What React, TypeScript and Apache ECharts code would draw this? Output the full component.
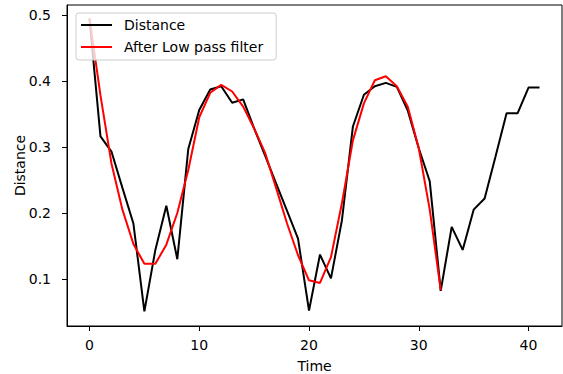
import React, { useEffect, useRef } from "react";
import * as echarts from "echarts";

const distance = [0.494, 0.316, 0.293, 0.238, 0.184, 0.051, 0.144, 0.211, 0.130, 0.297, 0.356, 0.387, 0.392, 0.367, 0.372, 0.328, 0.287, 0.245, 0.203, 0.161, 0.052, 0.137, 0.101, 0.189, 0.331, 0.379, 0.392, 0.397, 0.391, 0.355, 0.298, 0.248, 0.082, 0.179, 0.144, 0.205, 0.222, 0.286, 0.351, 0.351, 0.390, 0.390];
const filtered = [0.495, 0.378, 0.275, 0.205, 0.153, 0.123, 0.123, 0.152, 0.200, 0.265, 0.345, 0.382, 0.394, 0.384, 0.361, 0.328, 0.291, 0.238, 0.184, 0.136, 0.098, 0.094, 0.133, 0.215, 0.310, 0.366, 0.401, 0.407, 0.392, 0.361, 0.298, 0.205, 0.083];
const xTicks = [0, 10, 20, 30, 40];
const yTicks = [0.1, 0.2, 0.3, 0.4, 0.5];
const seriesNames = ["Distance", "After Low pass filter"];

const FONT = "DejaVu Sans";

export default function App() {
  const ref = useRef<HTMLDivElement>(null);
  useEffect(() => {
    if (!ref.current) return;
    const chart = echarts.init(ref.current, undefined, { renderer: "svg" });
    chart.setOption({
      animation: false,
      textStyle: { fontFamily: FONT },
      grid: {
        left: 67,
        right: 1,
        top: 5,
        bottom: 48,
        outerBoundsMode: "none",
        containLabel: false,
        show: true,
        borderColor: "#000",
        borderWidth: 1,
        backgroundColor: "transparent",
      },
      legend: {
        orient: "vertical",
        left: 76,
        top: 13,
        icon: "rect",
        itemWidth: 31,
        itemHeight: 2,
        itemGap: 6,
        padding: [4, 13, 5, 5],
        backgroundColor: "rgba(255,255,255,0.8)",
        borderColor: "#cccccc",
        borderWidth: 1,
        borderRadius: 3,
        textStyle: { fontFamily: FONT, fontSize: 14, color: "#000", lineHeight: 16, padding: [0, 0, 0, 7] },
        data: seriesNames,
      },
      xAxis: {
        type: "value",
        min: -2.05,
        max: 43.05,
        name: "Time",
        nameLocation: "middle",
        nameGap: 33,
        nameMoveOverlap: false,
        nameTextStyle: { fontFamily: FONT, fontSize: 14, color: "#000" },
        axisLine: { show: true, onZero: false, lineStyle: { color: "#000", width: 1 } },
        axisTick: { show: true, inside: false, length: 5, customValues: xTicks, lineStyle: { color: "#000", width: 1 } },
        axisLabel: { customValues: xTicks, margin: 12, fontFamily: FONT, fontSize: 14, color: "#000" },
        splitLine: { show: false },
      },
      yAxis: {
        type: "value",
        min: 0.0288,
        max: 0.515,
        name: "Distance",
        nameLocation: "middle",
        nameGap: 40,
        nameMoveOverlap: false,
        nameRotate: 90,
        nameTextStyle: { fontFamily: FONT, fontSize: 14, color: "#000" },
        axisLine: { show: true, onZero: false, lineStyle: { color: "#000", width: 1 } },
        axisTick: { show: true, inside: false, length: 5, customValues: yTicks, lineStyle: { color: "#000", width: 1 } },
        axisLabel: {
          customValues: yTicks,
          margin: 16,
          fontFamily: FONT,
          fontSize: 14,
          color: "#000",
          formatter: (v: number) => v.toFixed(1),
        },
        splitLine: { show: false },
      },
      series: [
        {
          name: seriesNames[0],
          type: "line",
          data: distance.map((v, i) => [i, v]),
          symbol: "none",
          lineStyle: { color: "#000000", width: 2 },
          itemStyle: { color: "#000000" },
        },
        {
          name: seriesNames[1],
          type: "line",
          data: filtered.map((v, i) => [i, v]),
          symbol: "none",
          lineStyle: { color: "#ff0000", width: 2 },
          itemStyle: { color: "#ff0000" },
        },
      ],
    });
    return () => chart.dispose();
  }, []);
  return <div ref={ref} style={{ width: 563, height: 374, position: "absolute", left: 0, top: 0 }} />;
}
